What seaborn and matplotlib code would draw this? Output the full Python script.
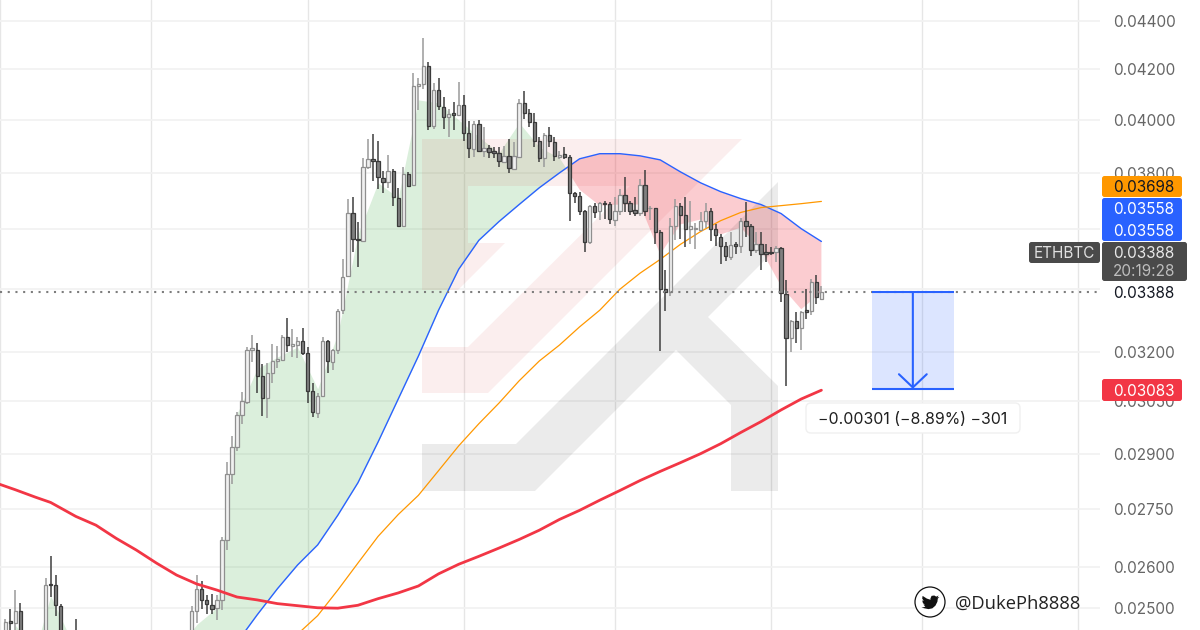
"""ETHBTC daily candles with moving averages and a measured drop."""

import matplotlib
matplotlib.use("Agg")
import matplotlib.pyplot as plt
import numpy as np
import pandas as pd
import seaborn as sns
from matplotlib.patches import Circle, FancyBboxPatch, Polygon, Rectangle
from matplotlib.ticker import NullLocator
from matplotlib.transforms import Affine2D

# prices are in 1e-5 BTC
days = [0, 1, 2, 3, 8, 9, 10, 11, 14] + list(range(37, 163))
opens = [
    2430, 2469, 2464, 2493, 2430, 2558, 2555, 2505, 2430,
    2430, 2493, 2546, 2519, 2507, 2500, 2519, 2668, 2845, 2920, 3011, 3048, 3205, 3205, 3126,
    3060, 3135, 3171, 3174, 3245, 3217, 3220, 3233, 3196, 3081, 3016, 3066, 3233, 3168, 3205,
    3330, 3441, 3658, 3568, 3558, 3823, 3853, 3845, 3783, 3769, 3808, 3711, 3613, 3798, 3758,
    4133, 4141, 4213, 3977, 4117, 4051, 4012, 4028, 4020, 4059, 3951, 3890, 3985, 3882, 3894,
    3882, 3875, 3842, 3864, 3816, 3860, 4066, 4028, 3992, 3920, 3856, 3943, 3916, 3860, 3871,
    3860, 3729, 3718, 3665, 3555, 3680, 3665, 3694, 3690, 3634, 3665, 3722, 3694, 3669, 3658,
    3758, 3673, 3673, 3592, 3398, 3388, 3613, 3683, 3651, 3602, 3602, 3599, 3630, 3665, 3602,
    3575, 3541, 3504, 3548, 3541, 3630, 3613, 3528, 3548, 3521, 3521, 3521, 3535, 3381, 3242,
    3296, 3273, 3330, 3327, 3421, 3365,
]
highs = [
    2474, 2498, 2543, 2512, 2573, 2627, 2579, 2508, 2474,
    2505, 2580, 2565, 2531, 2533, 2531, 2676, 2878, 2951, 3019, 3078, 3214, 3251, 3227, 3162,
    3165, 3224, 3217, 3251, 3305, 3270, 3245, 3273, 3214, 3105, 3075, 3245, 3236, 3208, 3333,
    3497, 3708, 3715, 3627, 3856, 3928, 3947, 3920, 3808, 3867, 3816, 3747, 3823, 3805, 4185,
    4165, 4328, 4230, 4145, 4165, 4090, 4043, 4070, 4149, 4098, 3996, 3996, 4000, 3973, 3905,
    3897, 3897, 3901, 3928, 3916, 4082, 4113, 4043, 4028, 3935, 3951, 3973, 3935, 3882, 3897,
    3867, 3733, 3733, 3669, 3687, 3694, 3697, 3701, 3697, 3715, 3744, 3787, 3701, 3715, 3780,
    3812, 3683, 3676, 3599, 3461, 3641, 3708, 3694, 3715, 3701, 3623, 3662, 3694, 3676, 3617,
    3585, 3555, 3589, 3555, 3641, 3697, 3620, 3589, 3589, 3548, 3538, 3541, 3538, 3428, 3299,
    3324, 3327, 3398, 3431, 3444, 3408,
]
lows = [
    2420, 2440, 2445, 2420, 2420, 2526, 2481, 2420, 2410,
    2420, 2464, 2498, 2486, 2486, 2471, 2495, 2643, 2817, 2908, 2985, 3042, 3168, 3075, 3008,
    3002, 3105, 3150, 3171, 3199, 3183, 3180, 3190, 3045, 3005, 3002, 3063, 3135, 3144, 3193,
    3317, 3438, 3521, 3471, 3555, 3816, 3772, 3744, 3729, 3747, 3680, 3610, 3610, 3751, 3754,
    4039, 4121, 3962, 3966, 4039, 3966, 3935, 3962, 4016, 3920, 3856, 3860, 3879, 3860, 3856,
    3856, 3823, 3838, 3801, 3812, 3856, 4004, 3973, 3897, 3842, 3823, 3897, 3845, 3853, 3853,
    3630, 3694, 3651, 3521, 3551, 3641, 3634, 3637, 3617, 3610, 3651, 3662, 3651, 3648, 3645,
    3648, 3634, 3548, 3202, 3327, 3375, 3562, 3565, 3538, 3548, 3531, 3596, 3606, 3558, 3541,
    3481, 3491, 3494, 3514, 3518, 3575, 3507, 3518, 3461, 3487, 3511, 3487, 3355, 3096, 3199,
    3227, 3205, 3302, 3314, 3349, 3362,
]
closes = [
    2467, 2464, 2493, 2430, 2556, 2555, 2506, 2430, 2420,
    2493, 2546, 2519, 2510, 2498, 2519, 2668, 2845, 2920, 3011, 3051, 3205, 3211, 3126, 3060,
    3135, 3171, 3177, 3245, 3220, 3224, 3233, 3196, 3081, 3019, 3066, 3233, 3171, 3205, 3327,
    3438, 3658, 3565, 3562, 3823, 3853, 3845, 3787, 3769, 3808, 3715, 3613, 3798, 3754, 4133,
    4141, 4213, 3977, 4117, 4055, 4012, 4024, 4020, 4059, 3951, 3894, 3985, 3882, 3894, 3879,
    3875, 3845, 3864, 3819, 3864, 4066, 4028, 3992, 3920, 3856, 3943, 3920, 3864, 3867, 3860,
    3729, 3718, 3665, 3555, 3680, 3662, 3694, 3690, 3637, 3665, 3722, 3694, 3665, 3658, 3758,
    3665, 3676, 3592, 3398, 3388, 3610, 3683, 3651, 3602, 3610, 3606, 3630, 3665, 3602, 3579,
    3541, 3507, 3545, 3541, 3630, 3613, 3528, 3548, 3514, 3514, 3518, 3535, 3385, 3242, 3296,
    3273, 3324, 3324, 3421, 3372, 3388,
]

# moving averages, read at every few candles (below 2447 is off the chart)
line_days = [-2, 2, 6, 9] + list(range(14, 163, 4))
ma_red = [
    2820, 2801, 2781, 2767, 2730, 2707, 2673, 2643, 2610, 2580, 2558, 2543, 2526, 2519,
    2510, 2505, 2500, 2499, 2506, 2522, 2536, 2553, 2583, 2607, 2627, 2648, 2670, 2694,
    2722, 2746, 2773, 2799, 2826, 2851, 2875, 2900, 2928, 2960, 2991, 3025, 3057, 3083,
]
ma_orange = [
    2300, 2300, 2300, 2300, 2300, 2300, 2300, 2300, 2300, 2300, 2300, 2300, 2300, 2300,
    2390, 2437, 2481, 2543, 2610, 2678, 2735, 2786, 2853, 2922, 2985, 3045, 3111, 3171,
    3220, 3277, 3330, 3398, 3451, 3497, 3548, 3592, 3630, 3659, 3676, 3683, 3690, 3698,
]
ma_blue = [
    2300, 2300, 2300, 2300, 2300, 2300, 2300, 2300, 2300, 2300, 2300, 2300, 2418, 2483,
    2546, 2605, 2656, 2733, 2820, 2933, 3057, 3186, 3330, 3464, 3562, 3627, 3687, 3747,
    3801, 3853, 3872, 3872, 3864, 3849, 3805, 3765, 3733, 3708, 3687, 3655, 3602, 3558,
]
band_edge = [
    2300, 2458, 2400, 2529, 2400, 2400, 2400, 2400, 2400, 2400, 2460, 2500, 3014, 3147,
    3183, 3214, 3087, 3255, 3582, 3765, 3711, 4078, 4066, 4000, 3935, 3875, 3989, 3897,
    3856, 3740, 3683, 3687, 3687, 3514, 3617, 3634, 3582, 3606, 3531, 3408, 3333, 3388,
]

price_ticks = [0.044, 0.042, 0.040, 0.038, 0.036, 0.034, 0.032, 0.0305, 0.029, 0.0275, 0.026, 0.025]
price_tick_labels = ["0.04400", "0.04200", "0.04000", "0.03800", "", "", "0.03200", "0.03050",
                     "0.02900", "0.02750", "0.02600", "0.02500"]
month_starts = [-1, 29, 60, 91, 121, 152, 182, 213]

last_price = 0.03388
target_price = 0.03087
measure_start = 172
measure_end = 188.3
measure_label = "\u22120.00301 (\u22128.89%) \u2212301"

GREEN = "#4CAF50"
RED = "#F23645"
BLUE = "#2962FF"
ORANGE = "#FF9800"

sns.set_theme(style="whitegrid")
plt.rcParams["font.family"] = ["Inter", "DejaVu Sans"]

candles = pd.DataFrame({"day": days, "open": opens, "high": highs, "low": lows, "close": closes})
candles[["open", "high", "low", "close"]] /= 1e5
lines = pd.DataFrame({"day": line_days, "red": ma_red, "orange": ma_orange, "blue": ma_blue, "edge": band_edge})
lines[["red", "orange", "blue", "edge"]] /= 1e5

fig = plt.figure(figsize=(12, 6.3), dpi=100)
ax = fig.add_axes([0, 0, 1100 / 1200, 1])
ax.set_yscale("log")
px = Affine2D().scale(1, -1).translate(0, 630)  # picture pixels, y down

ax.set_axisbelow(True)
ax.xaxis.grid(True, color="#e6e6e6", lw=1.0)
ax.yaxis.grid(True, color="#f2f2f2", lw=1.3)

# area between the fast line and the blue average
ax.fill_between(lines["day"], lines["edge"], lines["blue"], where=lines["edge"] >= lines["blue"],
                interpolate=True, color=GREEN, alpha=0.2, lw=0, zorder=1)
ax.fill_between(lines["day"], lines["edge"], lines["blue"], where=lines["edge"] <= lines["blue"],
                interpolate=True, color=RED, alpha=0.25, lw=0, zorder=1)

# watermark
pink_mark = [(422, 139), (742, 139), (488, 393), (422, 393), (422, 347), (468, 347), (630, 186),
             (468, 186), (468, 243), (505, 243), (458, 290), (422, 290)]
gray_mark = [(422, 444), (516, 444), (778, 182), (778, 247), (708, 317), (778, 386), (778, 491),
             (731, 491), (731, 405), (676, 350), (535, 491), (422, 491)]
ax.add_patch(Polygon(pink_mark, closed=True, transform=px, fc=(0.84, 0.17, 0.17, 0.08), ec="none", zorder=2))
ax.add_patch(Polygon(gray_mark, closed=True, transform=px, fc=(0, 0, 0, 0.08), ec="none", zorder=2))

sns.lineplot(data=lines, x="day", y="blue", ax=ax, color=BLUE, lw=1.0, errorbar=None, legend=False, zorder=3)
sns.lineplot(data=lines, x="day", y="orange", ax=ax, color=ORANGE, lw=0.9, errorbar=None, legend=False, zorder=3)
sns.lineplot(data=lines, x="day", y="red", ax=ax, color=RED, lw=2.0, errorbar=None, legend=False, zorder=5)

# candles
up = candles[candles["close"] >= candles["open"]]
down = candles[candles["close"] < candles["open"]]
ax.vlines(up["day"], up["low"], up["high"], color="#9a9a9a", lw=1.1, zorder=4)
ax.vlines(down["day"], down["low"], down["high"], color="#3f3f3f", lw=1.1, zorder=4)
ax.bar(up["day"], up["close"] - up["open"], bottom=up["open"], width=0.66,
       color="#f0f0f0", edgecolor="#8f8f8f", lw=0.9, zorder=4)
ax.bar(down["day"], down["open"] - down["close"], bottom=down["close"], width=0.66,
       color="#808080", edgecolor="#3a3a3a", lw=0.9, zorder=4)

ax.axhline(last_price, color="#7d7d7d", lw=1.5, ls=(0, (1, 2.7)), zorder=4)

# measuring tool
ax.fill_between([measure_start, measure_end], target_price, last_price, color=BLUE, alpha=0.16, lw=0, zorder=3)
ax.hlines([last_price, target_price], measure_start, measure_end, color=BLUE, lw=1.5, zorder=5)
ax.annotate("", xy=((measure_start + measure_end) / 2, target_price),
            xytext=((measure_start + measure_end) / 2, last_price),
            arrowprops=dict(arrowstyle="->,head_length=0.95,head_width=1.0", color=BLUE, lw=1.5,
                            shrinkA=0, shrinkB=0, mutation_scale=10), zorder=5)

ax.set_xlim(-1.05, 217.3)
ax.set_ylim(0.02447, 0.0449)
ax.set_xticks(month_starts)
ax.set_xticklabels([])
ax.set_yticks(price_ticks)
ax.set_yticklabels(price_tick_labels)
ax.yaxis.set_minor_locator(NullLocator())
ax.yaxis.tick_right()
ax.tick_params(axis="y", length=0, pad=9.4, labelsize=11, labelcolor="#666666")
ax.tick_params(axis="x", length=0)
ax.set_xlabel("")
ax.set_ylabel("")
for spine in ax.spines.values():
    spine.set_visible(False)


def badge(x0, y0, x1, y1, color, radius=2.5, edge="none", z=6):
    patch = FancyBboxPatch((x0, y0), x1 - x0, y1 - y0, boxstyle=f"round,pad=0,rounding_size={radius}",
                           transform=px, fc=color, ec=edge, lw=1, zorder=z)
    fig.add_artist(patch)


def label(x, y, s, color, size=11, ha="left", family=None):
    fig.text(x, y, s, transform=px, color=color, fontsize=size, ha=ha, va="center_baseline",
             family=family or plt.rcParams["font.family"], zorder=7)


# price badges on the scale
label(1113, 292, "0.03388", "#131722")
badge(1102, 176, 1182, 197, ORANGE)
label(1113, 186.5, "0.03698", "#131722")
badge(1102, 198, 1182, 241, BLUE)
label(1113, 208.5, "0.03558", "white")
label(1113, 230, "0.03558", "white")
badge(1029, 242, 1100, 263, "#4a4a4a")
label(1064.5, 252.5, "ETHBTC", "#e0e0e0", ha="center")
badge(1102, 242, 1187, 281, "#4a4a4a")
label(1113, 252.5, "0.03388", "#e8e8e8")
label(1113, 270, "20:19:28", "#bdbdbd")
badge(1102, 379, 1182, 401, RED)
label(1113, 390, "0.03083", "white")

# measure label
badge(806, 403, 1020, 433, "white", radius=5, edge="#f0f0f0")
label(913, 418, measure_label, "#1f1f1f", size=11.4, ha="center")

# twitter handle
fig.add_artist(Circle((930, 602), 15, transform=px, fc="white", ec="#111111", lw=0.9, zorder=6))
bird = np.array([(-11, 6.5), (-7, 7.5), (-2, 8.5), (3, 7.5), (7, 4), (9.5, -1), (10, -5), (12, -7),
                 (9.5, -6.5), (11, -9), (8, -7.5), (5.5, -9), (2, -8.5), (0.5, -5), (0.7, -3.5),
                 (-4, -5), (-9.5, -8.5), (-10, -5), (-8, -2), (-10, -2.7), (-9, 1), (-6.5, 2.5),
                 (-8.5, 2.7), (-6, 5.2), (-8, 6)]) * 0.78 + (930, 602.5)
fig.add_artist(Polygon(bird, closed=True, transform=px, fc="#111111", ec="none", zorder=7))
label(955, 602, "@DukePh8888", "#222222", size=13.2, family=["Open Sans", "DejaVu Sans"])

fig.savefig("out.png", dpi=100)
plt.close(fig)
